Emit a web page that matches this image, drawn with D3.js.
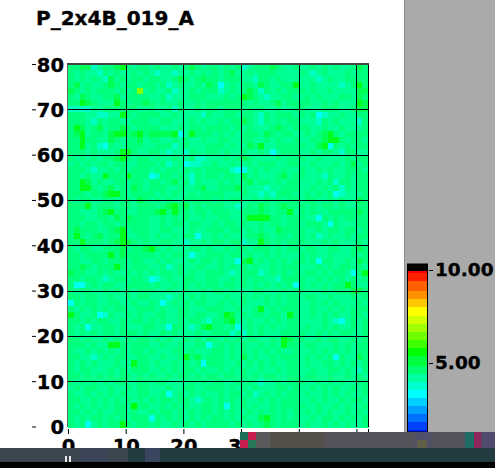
<!DOCTYPE html>
<html>
<head>
<meta charset="utf-8">
<style>
html,body{margin:0;padding:0;background:#fff;overflow:hidden}
svg{display:block}
text{font-family:"DejaVu Sans",sans-serif;font-weight:bold;fill:#000;stroke:#000;stroke-width:.35px}
</style>
<script src="https://cdn.jsdelivr.net/npm/d3@7/dist/d3.min.js"></script>
</head>
<body>
<svg id="c" width="495" height="468"></svg>
<script>
const titleText = "P_2x4B_019_A";
const xTicks = [0,10,20,30,40,50,52];
const yTicks = [0,10,20,30,40,50,60,70,80];
const legendTicks = [5,10];
// colour band limits and colours, bottom to top of the colour bar
const bandLimits = [1.40,1.83,2.26,2.74,3.17,3.55,4.03,4.46,4.89,5.38,5.81,6.24,6.72,7.15,7.58,8.06,8.49,8.92,9.41,9.84,10];
const bandColors = ["#0020ff","#0040ff","#0070ff","#00a0ff","#00d0ff","#00ffff","#00ffd0","#00ffa0","#00ff70","#00ff40","#00ff00","#40ff00","#70ff00","#a0ff00","#d0ff00","#ffff00","#ffc800","#ff9000","#ff6000","#ff2000","#ff0000","#000000"];
// level code in the grid -> value
const levelValues = [3.5,3.91,4.34,4.56,4.93,5.38,5.6,6.7];
// grid, top row (y=80) first, one code per cell
const gridRows = [
"3344123345323 3232232343233 2323123334322 3223232322343",
"3232213232232 3212212232323 2342232333222 2321232223233",
"3232321423233 2332234323433 2333221332322 2222123223333",
"3423223432332 3323123223243 0232332432233 5223222212353",
"4323233323237 2322312232333 1232343132323 3323223222244",
"3243223342333 3223122233322 2323543212233 2232322233243",
"3354322253233 4323223223233 3333323223423 3332232322254",
"1111223333332 2322313223233 2333232322322 3322233322344",
"3332211225323 3332232222132 2332332132333 2323012232233",
"3332132332233 3223322232322 3233432132323 3222132322213",
"3542342334323 3332223233233 3323232223432 3332232232223",
"3452332455345 3444450253332 3232333243233 2232345323333",
"3353322432334 2332232322322 3322332232322 3223345532332",
"3352310322333 2233312322233 3232243522333 3322450323233",
"3332322235532 2332122132233 2322322320233 3223233213322",
"3232323345323 3232232231122 2323432222323 3322322223233",
"2323233233223 3323123011223 2232232333223 3223222323423",
"3332122323233 3232332323233 3310023232232 2322323223332",
"3323225333533 3013323213233 2332423222342 3322213223233",
"3354232233233 2332342313222 3232342332323 3222323133233",
"3355323423243 2333223223422 3334322212233 3223232313233",
"3332334553233 3323232232333 3222322121333 2232323012223",
"3233223323324 3232322333332 3233223232323 3233223232243",
"3335233323323 3323453423233 3221232432343 3323233232233",
"3322234533223 3345353323323 3322333432335 2323223333343",
"3332233243433 3223232322322 3322355553323 3322032323333",
"3323323323333 3223233233223 2332322323323 3233320322233",
"3433322345233 3223322232233 3233232322433 3322323323323",
"3532342335223 3232232330223 2322233432332 3323123223233",
"3353332345432 3223322122323 3233122532323 3322232322232",
"3233223334233 4532322233232 2323323332323 3233223322343",
"3323333534333 3323233202233 3233232232322 2323223222323",
"3322332333233 2232322232332 3220452323232 3323033223243",
"3343233353233 3223123223322 3232323223233 3222323233232",
"4332232322323 2323323232233 3212333123232 3233232332035",
"3323321233233 2012322332233 2232323322133 3322323232323",
"3002323322333 3232232323233 2332323232323 0323232335322",
"3233223232323 3322322322323 3232223322232 3322232333443",
"3323322322323 3222123232322 2322323232323 3233223222323",
"0323322332232 2320232323322 3232322232323 3223232322232",
"3232323233223 3323223322233 3223223523233 3223223232333",
"5322301322323 2233223323322 3542323323325 3223232322332",
"3323233223233 2323223233213 3452232232323 3222232102323",
"3230223323222 3322033212453 3230232323223 3232232322323",
"3232323323332 3223232223223 3312132322233 3322323233223",
"3323223232323 3232322323233 2323233223254 3322323322323",
"3332322553233 3223223223302 3232322323253 3233222323233",
"3223232323233 2322233232223 3232323232322 3223232323233",
"3322123233223 3223223534233 3232423223233 3232323032243",
"3232322232253 3232232323033 3223232323223 3232233232323",
"3233222323233 3223232332322 3232322322323 3223223323213",
"3323232323323 2322323323233 2332323233223 3233223223232",
"3232323233223 3233222232323 3223232122323 3322323232233",
"2323322322323 3222322332233 3232323222332 3223232322323",
"3223232323223 3223023232322 3233231232323 3232232323223",
"3322323232323 2323323321232 3232322323233 3223232232332",
"3232323233263 3223232322332 3032323223233 3322322323223",
"3323232233232 2323323232332 3232232323232 3232323223232",
"3232332323233 3032323232323 3232322453232 3223233232323",
"3230232335323 3232232323233 3323232343233 3232232323223"
];

const svg = d3.select("#c");
const rows = gridRows.map(r => r.replace(/ /g,"").split("").map(d => levelValues[+d]));
// cells use a smooth blend through the middle of each colour band
const stops = [1.29,...bandLimits,10.32];
const mids = bandColors.map((c,i)=>(stops[i]+stops[i+1])/2);
const color = d3.scaleLinear().domain(mids).range(bandColors).interpolate(d3.interpolateRgb);
const colIdx = d3.range(rows[0].length), rowIdx = d3.range(rows.length);
const xBand = d3.scaleBand().domain(colIdx).range([68,368]);
const yBand = d3.scaleBand().domain(rowIdx).range([64,427]);
const x = d3.scaleLinear().domain([0,52]).range([68,368]);
const y = d3.scaleLinear().domain([0,80]).range([426.5,64]);
const leg = d3.scaleLinear().domain([5,10]).range([363,270]);

// grey side panel
svg.append("rect").attr("x",404).attr("y",0).attr("width",91).attr("height",468).attr("fill","#aaaaaa");
svg.append("rect").attr("x",404).attr("y",0).attr("width",1).attr("height",468).attr("fill","#8c8c8c");

// cells
rows.forEach((row,i) => {
  svg.append("g").attr("shape-rendering","crispEdges").selectAll("rect").data(row).join("rect")
    .attr("x",(d,j)=>xBand(j)).attr("y",yBand(i))
    .attr("width",xBand.bandwidth()+0.5).attr("height",yBand.bandwidth()+0.5)
    .attr("fill",d=>color(d));
});

// grid
const grid = svg.append("g").attr("stroke","#000").attr("stroke-width",1).attr("shape-rendering","crispEdges");
grid.selectAll(".v").data(xTicks.slice(1)).join("line").attr("class","v")
  .attr("x1",d=>Math.round(x(d))+.5).attr("x2",d=>Math.round(x(d))+.5).attr("y1",64).attr("y2",427);
grid.selectAll(".h").data(yTicks.slice(1,-1)).join("line").attr("class","h")
  .attr("x1",68).attr("x2",369).attr("y1",d=>Math.round(y(d))+.5).attr("y2",d=>Math.round(y(d))+.5);
svg.append("rect").attr("x",67).attr("y",64).attr("width",1).attr("height",363).attr("fill","#666");
svg.append("rect").attr("x",67).attr("y",63).attr("width",302).attr("height",2).attr("fill","#444");

// axes
const yAxis = d3.axisLeft(y).tickValues(yTicks).tickSize(4).tickPadding(-32);
const gy = svg.append("g").attr("transform","translate(36,0)").call(yAxis);
gy.select(".domain").remove();
gy.selectAll("text").style("font-size","19.5px").attr("fill","#000").attr("dy","0.36em");
const xAxis = d3.axisBottom(x).tickValues(xTicks).tickSize(5).tickPadding(5).tickFormat(d=>d===52?"":d);
const gx = svg.append("g").attr("transform","translate(0,429)").call(xAxis);
gx.select(".domain").remove();
gx.selectAll("text").style("font-size","19.5px");

// colour bar
svg.append("g").attr("shape-rendering","crispEdges").selectAll("rect").data(bandColors).join("rect")
  .attr("x",408).attr("width",19)
  .attr("y",(d,i)=>leg(stops[i+1])).attr("height",(d,i)=>leg(stops[i])-leg(stops[i+1])+.5)
  .attr("fill",d=>d);
svg.append("rect").attr("x",407.5).attr("y",264).attr("width",20).attr("height",168).attr("fill","none").attr("stroke","#000");
const legAxis = d3.axisRight(leg).tickValues(legendTicks).tickSize(4).tickPadding(2).tickFormat(d3.format(".2f"));
const gl = svg.append("g").attr("transform","translate(429,0)").call(legAxis);
gl.select(".domain").remove();
gl.selectAll("text").style("font-size","18.5px");

// title
svg.append("text").attr("x",36).attr("y",25).style("font-size","20px").text(titleText);

// bottom screen band
const band = svg.append("g").attr("shape-rendering","crispEdges");
const r = (a,b,w,h,f)=>band.append("rect").attr("x",a).attr("y",b).attr("width",w).attr("height",h).attr("fill",f);
r(240,432,255,16,"#55525c");
r(240,432,8,8,"#1e6e5a"); r(248,432,8,8,"#c81e50"); r(240,440,8,8,"#c81e50"); r(248,440,8,8,"#28785a");
r(256,432,14,16,"#5a5a5a"); r(270,432,55,16,"#55504a");
r(415,432,16,16,"#50506a"); r(417,440,10,8,"#60604a"); r(465,432,9,16,"#1e6e64"); r(474,432,7,16,"#8c285a"); r(481,432,14,16,"#504a6e");
r(0,448,495,14,"#233c41");
r(0,448,128,14,"#3c4650"); r(80,448,28,14,"#3a4658"); r(145,448,15,14,"#3a4660");
r(65,456,2,6,"#e8e8e8"); r(69,456,2,6,"#e8e8e8");
r(0,462,495,6,"#000");
</script>
</body>
</html>
